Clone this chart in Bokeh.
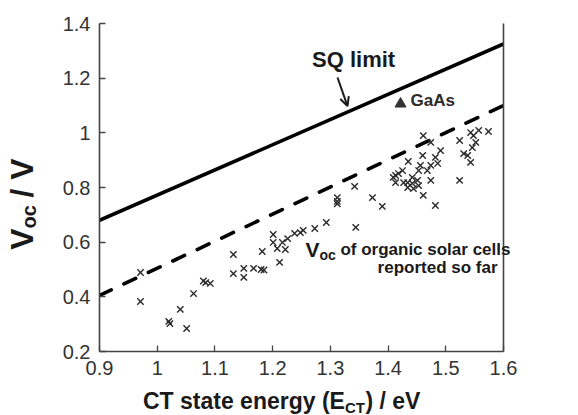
import math
from bokeh.plotting import figure
from bokeh.models import (Range1d, FixedTicker, LinearAxis, Arrow, OpenHead,
                          CustomJSTickFormatter, ColumnDataSource)
from bokeh.core.properties import value
from bokeh.embed import file_html
from bokeh.resources import INLINE

# ---------------- data ----------------
x_ticks = [0.9, 1.0, 1.1, 1.2, 1.3, 1.4, 1.5, 1.6]
x_tick_labels = ["0.9", "1", "1.1", "1.2", "1.3", "1.4", "1.5", "1.6"]
y_ticks = [0.2, 0.4, 0.6, 0.8, 1.0, 1.2, 1.4]
y_tick_labels = ["0.2", "0.4", "0.6", "0.8", "1", "1.2", "1.4"]

sq_x = [0.9, 1.6]
sq_y = [0.68, 1.325]

dash_x = [0.9, 1.6]
dash_y = [0.405, 1.10]

gaas_x = [1.4216]
gaas_y = [1.106]

ect = [0.971, 0.971, 1.020, 1.022, 1.040, 1.051, 1.063, 1.080, 1.084, 1.092,
       1.132, 1.132, 1.150, 1.150, 1.167, 1.182, 1.180, 1.185, 1.201, 1.201,
       1.208, 1.217, 1.222, 1.212, 1.226, 1.238, 1.248, 1.253, 1.273, 1.293,
       1.312, 1.312, 1.312, 1.342, 1.344, 1.373, 1.390, 1.413, 1.418, 1.425,
       1.435, 1.434, 1.442, 1.451, 1.453, 1.461, 1.461, 1.460, 1.456, 1.474,
       1.482, 1.491, 1.486, 1.474, 1.468, 1.474, 1.482, 1.524, 1.524, 1.531,
       1.538, 1.543, 1.543, 1.548, 1.552, 1.546, 1.557, 1.574, 1.434, 1.413,
       1.427, 1.442, 1.453, 1.444, 1.409]
voc = [0.489, 0.383, 0.310, 0.302, 0.354, 0.284, 0.412, 0.458, 0.452, 0.449,
       0.555, 0.485, 0.504, 0.471, 0.504, 0.566, 0.500, 0.498, 0.628, 0.599,
       0.577, 0.599, 0.573, 0.526, 0.613, 0.632, 0.635, 0.643, 0.650, 0.672,
       0.740, 0.749, 0.763, 0.804, 0.654, 0.763, 0.731, 0.844, 0.851, 0.862,
       0.895, 0.818, 0.815, 0.826, 0.862, 0.771, 0.990, 0.917, 0.881, 0.965,
       0.910, 0.935, 0.888, 0.881, 0.862, 0.826, 0.734, 0.972, 0.826, 0.924,
       0.917, 0.892, 1.001, 0.990, 0.965, 0.946, 1.009, 1.005, 0.800, 0.818,
       0.818, 0.837, 0.807, 0.796, 0.837]

FONT = "Liberation Sans"
AX = "#444444"
TXT = "#333333"
DARK = "#1a1a1a"

p = figure(width=578, height=415, output_backend="svg", toolbar_location=None,
           x_range=Range1d(0.9, 1.6), y_range=Range1d(0.2, 1.4),
           min_border_left=99, min_border_right=75, min_border_top=23,
           min_border_bottom=64)
p.outline_line_color = None
p.xgrid.visible = False
p.ygrid.visible = False
p.background_fill_color = "white"
p.border_fill_color = "white"

fmt_code = """
const i = tvals.findIndex(t => Math.abs(t - tick) < 1e-6);
return i >= 0 ? tlabels[i] : '';
"""

for ax, ticks, labels in ((p.xaxis[0], x_ticks, x_tick_labels),
                          (p.yaxis[0], y_ticks, y_tick_labels)):
    ax.ticker = FixedTicker(ticks=ticks)
    ax.formatter = CustomJSTickFormatter(args=dict(tvals=ticks, tlabels=labels), code=fmt_code)
    ax.major_tick_in = 6
    ax.major_tick_out = 0
    ax.minor_tick_line_color = None
    ax.axis_line_color = AX
    ax.axis_line_width = 1.6
    ax.major_tick_line_color = AX
    ax.major_tick_line_width = 1.3
    ax.major_label_text_font = FONT
    ax.major_label_text_font_size = "20px"
    ax.major_label_text_color = TXT
    ax.major_label_standoff = 9

right = LinearAxis(ticker=FixedTicker(ticks=[]), axis_line_color=AX, axis_line_width=1.6,
                   major_tick_line_color=None, minor_tick_line_color=None,
                   major_label_text_font_size="0px")
p.add_layout(right, "right")

# lines
p.line(sq_x, sq_y, line_color="black", line_width=3.6)
p.line(dash_x, dash_y, line_color="black", line_width=3.6, line_dash="13 14",
       line_cap="round")

# scatter
src = ColumnDataSource(dict(x=ect, y=voc))
p.scatter("x", "y", source=src, marker="x", size=9, line_color="#2a2a2a", line_width=1.4)

# GaAs
p.scatter(gaas_x, gaas_y, marker="triangle", size=11, fill_color="#333333",
          line_color="#333333")


def txt(x, y, s, size, bold=True, align="left", dx=0, dy=0, angle=0, color=DARK):
    p.text(x=[x], y=[y], text=[s], x_offset=dx, y_offset=dy, angle=angle,
           text_font=value(FONT), text_font_size=value(f"{size}px"),
           text_font_style="bold" if bold else "normal", text_color=color,
           text_align=align, text_baseline="middle", level="overlay")


txt(1.439, 1.1168, "GaAs", 17, bold=True, color="#2a2a2a")

# SQ limit label + arrow
txt(1.3403, 1.2666, "SQ limit", 22, align="center")
p.add_layout(Arrow(end=OpenHead(size=9, line_width=2, line_color=DARK),
                   x_start=1.3124, y_start=1.2026, x_end=1.3297, y_end=1.098,
                   line_width=2, line_color=DARK))

# Voc annotation
ax0, ay0 = 1.281, 0.575
txt(ax0, ay0, "V", 21, align="right")
txt(ax0, ay0, "oc", 14, dy=6)
txt(ax0, ay0, "of organic solar cells", 17, dx=21)
txt(1.5897, 0.507, "reported so far", 17, align="right")

# x axis title
xl_x, xl_y = 1.3252, 0.0189
txt(xl_x, xl_y, "CT state energy (E", 23, align="right")
txt(xl_x, xl_y, "CT", 15, dy=6.5)
txt(xl_x, xl_y, ") / eV", 23, dx=20.5)

# y axis title (rotated)
yl_x, yl_y = 0.7657, 0.650
txt(yl_x, yl_y, "V", 32, align="right", angle=math.pi / 2)
txt(yl_x, yl_y, "oc", 20, dx=7.5, angle=math.pi / 2)
txt(yl_x, yl_y, "/ V", 32, dy=-31, angle=math.pi / 2)

open("out.html", "w").write(file_html(p, INLINE))
